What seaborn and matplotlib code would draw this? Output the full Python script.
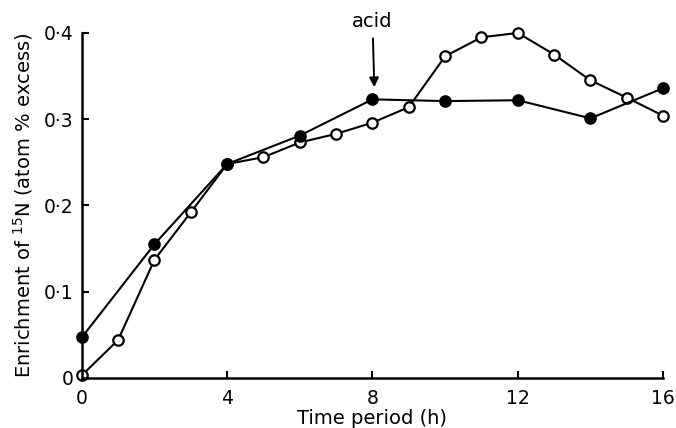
import matplotlib
matplotlib.use('Agg')
import seaborn as sns
import matplotlib.pyplot as plt

# Data
time_filled = [0, 2, 4, 6, 8, 10, 12, 14, 16]
enrich_filled = [0.047, 0.155, 0.248, 0.281, 0.323, 0.321, 0.322, 0.301, 0.336]

time_open = [0, 1, 2, 3, 4, 5, 6, 7, 8, 9, 10, 11, 12, 13, 14, 15, 16]
enrich_open = [0.003, 0.044, 0.137, 0.192, 0.248, 0.256, 0.273, 0.283, 0.296,
               0.314, 0.373, 0.395, 0.400, 0.375, 0.345, 0.325, 0.304]

x_ticks = [0, 4, 8, 12, 16]
y_ticks = [0, 0.1, 0.2, 0.3, 0.4]
y_tick_labels = ['0', '0·1', '0·2', '0·3', '0·4']

sns.set_style('ticks')
plt.rcParams['font.family'] = ['DejaVu Sans']
plt.rcParams['text.color'] = 'black'
plt.rcParams['axes.labelcolor'] = 'black'
plt.rcParams['xtick.color'] = 'black'
plt.rcParams['ytick.color'] = 'black'

fig = plt.figure(figsize=(6.76, 4.28), dpi=100)
ax = fig.add_axes([0.121, 0.117, 0.860, 0.806])

# open circles
sns.lineplot(x=time_open, y=enrich_open, ax=ax, color='black', lw=1.5,
             marker='o', markersize=7.5, markerfacecolor='white',
             markeredgecolor='black', markeredgewidth=1.6, clip_on=False)
# filled circles
sns.lineplot(x=time_filled, y=enrich_filled, ax=ax, color='black', lw=1.5,
             marker='o', markersize=7.5, markerfacecolor='black',
             markeredgecolor='black', markeredgewidth=1.6, clip_on=False)

ax.set_xlim(0, 16)
ax.set_ylim(0, 0.4)
ax.set_xticks(x_ticks)
ax.set_xticklabels([str(t) for t in x_ticks])
ax.set_yticks(y_ticks)
ax.set_yticklabels(y_tick_labels)
ax.tick_params(direction='in', length=5, width=1.5, labelsize=13.5,
               colors='black', labelcolor='black')
ax.tick_params(axis='x', pad=8)
ax.tick_params(axis='y', pad=6)

for side in ['top', 'right']:
    ax.spines[side].set_visible(False)
for side in ['left', 'bottom']:
    ax.spines[side].set_linewidth(1.8)
    ax.spines[side].set_color('black')

ax.set_xlabel('Time period (h)', fontsize=14, labelpad=1, color='black')
ax.set_ylabel('Enrichment of $\\mathregular{^{15}}$N (atom % excess)', fontsize=14,
              labelpad=6, color='black')

# acid arrow
ax.annotate('acid', xy=(8.05, 0.337), xytext=(8, 0.407), ha='center',
            va='baseline', fontsize=14, color='black', annotation_clip=False,
            arrowprops=dict(arrowstyle='-|>', color='black', lw=1.4,
                            shrinkA=3, shrinkB=0, mutation_scale=14))

fig.savefig('out.png', dpi=100)
